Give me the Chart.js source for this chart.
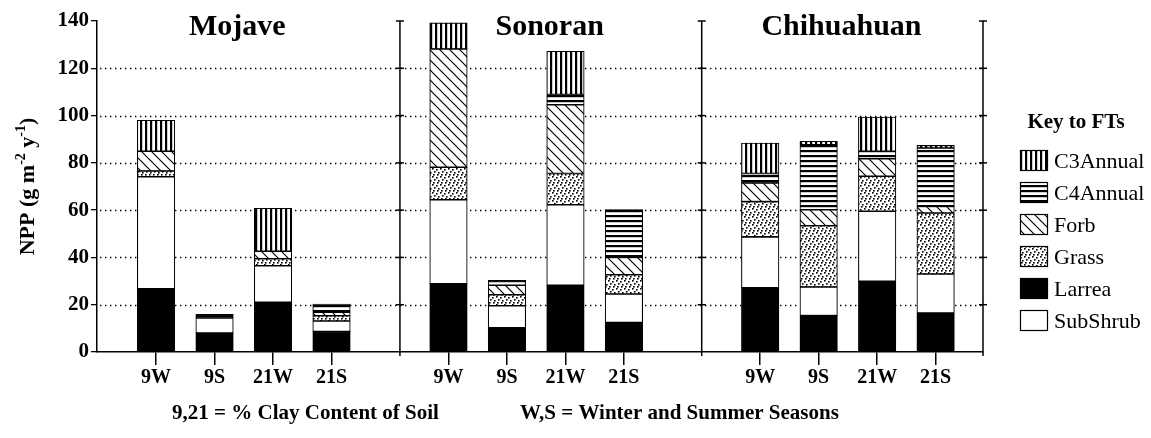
<!DOCTYPE html>
<html>
<head>
<meta charset="utf-8">
<script src="https://cdn.jsdelivr.net/npm/chart.js@4.4.0/dist/chart.umd.min.js"></script>
<style>
  html, body { margin: 0; padding: 0; background: #fff; }
  #wrap { width: 1151px; height: 438px; }
</style>
</head>
<body>
<div id="wrap"><canvas id="nppChart" width="1151" height="438"></canvas></div>
<script>
// deserts, sites and NPP (g m-2 y-1) per functional type
const deserts = ['Mojave', 'Sonoran', 'Chihuahuan'];
const sites = ['9W', '9S', '21W', '21S'];
const yTicks = [0, 20, 40, 60, 80, 100, 120, 140];

// order: Mojave 9W,9S,21W,21S | Sonoran ... | Chihuahuan ...
const larrea   = [26.7, 8.0, 21.0, 8.7,   28.9, 10.2, 28.2, 12.5,   27.2, 15.4, 29.9, 16.5];
const subShrub = [47.4, 6.4, 15.5, 4.4,   35.5, 9.4, 34.1, 12.0,    21.5, 12.1, 29.6, 16.5];
const grass    = [2.5, 0, 2.9, 2.2,       13.7, 4.6, 13.2, 8.2,     14.9, 25.9, 14.8, 25.8];
const forb     = [8.3, 0, 3.2, 1.5,       50.1, 4.0, 29.1, 7.3,     7.9, 6.8, 7.4, 2.8];
const c4Annual = [0, 1.5, 0, 3.5,         0, 2.1, 4.3, 20.2,        4.0, 27.4, 3.2, 24.7];
const c3Annual = [13.1, 0, 18.2, 0,       11.0, 0, 18.3, 0,         12.9, 1.5, 14.5, 1.1];

// layout of the three panels on one linear x scale (1 unit = one site slot)
const panelStart = [1.01, 6.01, 11.34];
const panelDividers = [5.18, 10.34];
const titleX = [2.40, 7.74, 12.73];
const xMax = 15.15;

const serif = "'Liberation Serif', 'Times New Roman', serif";

// hatch fills
function makePattern(kind) {
    const c = document.createElement('canvas');
    const g = c.getContext('2d');
    if (kind === 'vert') {
        c.width = 5; c.height = 5;
        g.fillStyle = '#fff'; g.fillRect(0, 0, 5, 5);
        g.fillStyle = '#000'; g.fillRect(0, 0, 2.2, 5);
    } else if (kind === 'horiz') {
        c.width = 5; c.height = 5;
        g.fillStyle = '#fff'; g.fillRect(0, 0, 5, 5);
        g.fillStyle = '#000'; g.fillRect(0, 0, 5, 2.2);
    } else if (kind === 'diag') {
        c.width = 10; c.height = 10;
        g.fillStyle = '#fff'; g.fillRect(0, 0, 10, 10);
        g.strokeStyle = '#000'; g.lineWidth = 1.2;
        g.beginPath();
        g.moveTo(-1, -1); g.lineTo(11, 11);
        g.moveTo(-1, 9); g.lineTo(1, 11);
        g.moveTo(9, -1); g.lineTo(11, 1);
        g.stroke();
    } else if (kind === 'dots') {
        c.width = 8; c.height = 8;
        g.fillStyle = '#fff'; g.fillRect(0, 0, 8, 8);
        g.fillStyle = '#000';
        [[0, 0], [4, 1], [2, 3], [6, 4], [1, 6], [5, 6]].forEach(p => g.fillRect(p[0], p[1], 1.6, 1.6));
    }
    return g.createPattern(c, 'repeat');
}

const fills = {
    C3Annual: makePattern('vert'),
    C4Annual: makePattern('horiz'),
    Forb: makePattern('diag'),
    Grass: makePattern('dots'),
    Larrea: '#000',
    SubShrub: '#fff'
};

// stacked bottom -> top
const series = [
    ['Larrea', larrea],
    ['SubShrub', subShrub],
    ['Grass', grass],
    ['Forb', forb],
    ['C4Annual', c4Annual],
    ['C3Annual', c3Annual]
];
const legendOrder = ['C3Annual', 'C4Annual', 'Forb', 'Grass', 'Larrea', 'SubShrub'];

const tickPositions = [];
deserts.forEach((d, p) => sites.forEach((s, i) => tickPositions.push(panelStart[p] + i)));

function toPoints(values) {
    const pts = [];
    values.forEach((v, k) => { if (v > 0) pts.push({ x: tickPositions[k], y: v }); });
    return pts;
}

const datasets = series.map(([name, values]) => ({
    label: name,
    data: toPoints(values),
    backgroundColor: fills[name],
    borderColor: '#000',
    borderWidth: 1.1,
    borderSkipped: false,
    barThickness: 37.5
}));

// extra drawing: dotted grid, panel lines, titles, key, captions
const decor = {
    id: 'decor',
    beforeDatasetsDraw(chart) {
        const { ctx, chartArea, scales: { y } } = chart;
        ctx.save();
        ctx.strokeStyle = '#000';
        ctx.lineWidth = 1.3;
        ctx.setLineDash([1.4, 3.6]);
        yTicks.forEach(v => {
            if (v === 0 || v === 140) return;
            const py = Math.round(y.getPixelForValue(v)) + 0.5;
            ctx.beginPath();
            ctx.moveTo(chartArea.left + 3, py);
            ctx.lineTo(chartArea.right, py);
            ctx.stroke();
        });
        ctx.restore();
    },
    afterDraw(chart) {
        const { ctx, chartArea, scales: { x, y } } = chart;
        ctx.save();
        ctx.strokeStyle = '#000';
        ctx.fillStyle = '#000';
        ctx.lineWidth = 1.5;

        // panel dividers and right frame
        const verticals = panelDividers.map(v => x.getPixelForValue(v)).concat([chartArea.right]);
        verticals.forEach(px => {
            ctx.beginPath();
            ctx.moveTo(px, chartArea.top);
            ctx.lineTo(px, chartArea.bottom + 4);
            ctx.stroke();
            yTicks.forEach(v => {
                if (v === 0) return;
                const py = y.getPixelForValue(v);
                ctx.beginPath();
                ctx.moveTo(px - 4, py);
                ctx.lineTo(px + 4, py);
                ctx.stroke();
            });
        });

        // desert titles
        ctx.font = 'bold 30px ' + serif;
        ctx.textAlign = 'center';
        ctx.textBaseline = 'alphabetic';
        deserts.forEach((d, p) => ctx.fillText(d, x.getPixelForValue(titleX[p]), 35));

        // y axis title with superscripts
        ctx.save();
        ctx.translate(34, (chartArea.top + chartArea.bottom) / 2);
        ctx.rotate(-Math.PI / 2);
        const parts = [
            ['NPP (g m', 22, 0],
            ['-2', 14, -9],
            [' y', 22, 0],
            ['-1', 14, -9],
            [')', 22, 0]
        ];
        let total = 0;
        parts.forEach(pt => { ctx.font = 'bold ' + pt[1] + 'px ' + serif; total += ctx.measureText(pt[0]).width; });
        let cx = -total / 2;
        ctx.textAlign = 'left';
        parts.forEach(pt => {
            ctx.font = 'bold ' + pt[1] + 'px ' + serif;
            ctx.fillText(pt[0], cx, pt[2]);
            cx += ctx.measureText(pt[0]).width;
        });
        ctx.restore();

        // caption
        ctx.font = 'bold 21px ' + serif;
        ctx.textAlign = 'left';
        ctx.fillText('9,21 = % Clay Content of Soil', 172, 419);
        ctx.fillText('W,S = Winter and Summer Seasons', 520, 419);

        // key
        ctx.font = 'bold 21px ' + serif;
        ctx.textAlign = 'center';
        ctx.fillText('Key to FTs', 1076, 128);
        ctx.textAlign = 'left';
        ctx.font = '22px ' + serif;
        ctx.lineWidth = 1.2;
        legendOrder.forEach((name, i) => {
            const top = 150 + i * 32;
            ctx.fillStyle = fills[name];
            ctx.fillRect(1020, top, 28, 21);
            ctx.strokeRect(1020.5, top + 0.5, 27, 20);
            ctx.fillStyle = '#000';
            ctx.fillText(name, 1054, top + 18);
        });
        ctx.restore();
    }
};

new Chart(document.getElementById('nppChart'), {
    type: 'bar',
    data: { datasets: datasets },
    options: {
        responsive: false,
        animation: false,
        layout: { padding: { top: 21, right: 168, left: 0, bottom: 0 } },
        plugins: {
            legend: { display: false },
            tooltip: { enabled: false }
        },
        scales: {
            x: {
                type: 'linear',
                stacked: true,
                offset: false,
                min: 0,
                max: xMax,
                afterBuildTicks: scale => { scale.ticks = tickPositions.map(v => ({ value: v })); },
                afterFit: scale => { scale.height = 86; },
                ticks: {
                    autoSkip: false,
                    maxRotation: 0,
                    padding: 1,
                    color: '#000',
                    font: { family: serif, size: 20, weight: 'bold' },
                    callback: (value, index) => sites[index % sites.length]
                },
                grid: { offset: false, drawOnChartArea: false, drawTicks: true, tickLength: 13, color: '#000', lineWidth: 1.5 },
                border: { display: true, color: '#000', width: 1.5 }
            },
            y: {
                stacked: true,
                min: 0,
                max: 140,
                afterBuildTicks: scale => { scale.ticks = yTicks.map(v => ({ value: v })); },
                afterFit: scale => { scale.width = 97; },
                ticks: {
                    padding: 2,
                    color: '#000',
                    font: { family: serif, size: 21, weight: 'bold' }
                },
                grid: { drawOnChartArea: false, drawTicks: true, tickLength: 6, color: '#000', lineWidth: 1.3 },
                border: { display: true, color: '#000', width: 1.5 }
            }
        }
    },
    plugins: [decor]
});
</script>
</body>
</html>
